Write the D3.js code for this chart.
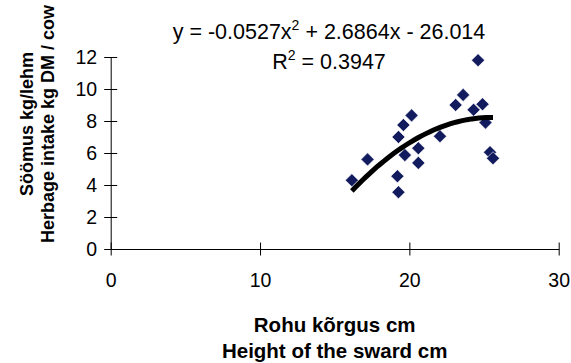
<!DOCTYPE html>
<html>
<head>
<meta charset="utf-8">
<script src="https://cdn.jsdelivr.net/npm/d3@7"></script>
<style>
  body { margin: 0; background: #fff; }
  svg text { font-family: "Liberation Sans", Arial, sans-serif; fill: #000; }
</style>
</head>
<body>
<div id="chart"></div>
<script>
// sward height (cm) vs herbage intake (kg DM / cow)
var swardHeight = [24.6, 23.6, 23.1, 24.9, 24.3, 25.1, 20.15, 19.6, 19.27, 22.05,
                   20.6, 19.7, 20.6, 17.2, 25.4, 25.6, 16.15, 19.2, 19.27];
var intake      = [11.8, 9.63, 9.0, 9.05, 8.7, 7.9, 8.35, 7.75, 7.0, 7.05,
                   6.3, 5.87, 5.38, 5.6, 6.05, 5.67, 4.3, 4.55, 3.55];
var xTicks = [0, 10, 20, 30];
var yTicks = [0, 2, 4, 6, 8, 10, 12];
// polynomial trend (order 2) as printed on the chart
var coef = [-0.0527, 2.6864, -26.014];

var width = 571, height = 363;

var svg = d3.select("#chart").append("svg")
    .attr("width", width)
    .attr("height", height);

var x = d3.scaleLinear().domain([0, 30]).range([110.7, 558.7]);
var y = d3.scaleLinear().domain([0, 12]).range([249, 57]);

// axes - ticks cross the axis line
var xAxis = svg.append("g")
    .attr("transform", "translate(0," + y(0) + ")")
    .call(d3.axisBottom(x).tickValues(xTicks).tickSize(6.5).tickSizeOuter(0).tickPadding(18));
xAxis.selectAll(".tick line").attr("y1", -6.5);

var yAxis = svg.append("g")
    .attr("transform", "translate(" + x(0) + ",0)")
    .call(d3.axisLeft(y).tickValues(yTicks).tickSize(6.5).tickSizeOuter(0).tickPadding(7));
yAxis.selectAll(".tick line").attr("x1", 6.5);

svg.selectAll(".domain, .tick line").attr("stroke", "#000").attr("stroke-width", 1);
svg.selectAll(".tick text").style("font-size", "19.5px");
svg.selectAll(".tick text").attr("fill", "#000");

// points
svg.append("g")
  .selectAll("path")
  .data(d3.range(swardHeight.length))
  .enter()
    .append("path")
    .attr("d", d3.symbol().type(d3.symbolDiamond2).size(110))
    .attr("transform", function(i) { return "translate(" + x(swardHeight[i]) + "," + y(intake[i]) + ")"; })
    .attr("fill", "#111b5e")
    .attr("stroke", "#fff")
    .attr("stroke-width", 0.6);

// trend line
var x0 = d3.min(swardHeight), x1 = d3.max(swardHeight);
var trend = d3.range(0, 41).map(function(k) {
    var v = x0 + (x1 - x0) * k / 40;
    return [v, coef[0] * v * v + coef[1] * v + coef[2]];
});
svg.append("path")
    .datum(trend)
    .attr("fill", "none")
    .attr("stroke", "#000")
    .attr("stroke-width", 5)
    .attr("d", d3.line().x(function(d) { return x(d[0]); }).y(function(d) { return y(d[1]); }));

// equation text
var eq = svg.append("text")
    .attr("x", 329).attr("y", 39)
    .attr("text-anchor", "middle")
    .style("font-size", "21.5px");
eq.append("tspan").text("y = -0.0527x");
eq.append("tspan").attr("dy", -9).style("font-size", "14px").text("2");
eq.append("tspan").attr("dy", 9).text(" + 2.6864x - 26.014");

var r2 = svg.append("text")
    .attr("x", 329).attr("y", 69)
    .attr("text-anchor", "middle")
    .style("font-size", "21.5px");
r2.append("tspan").text("R");
r2.append("tspan").attr("dy", -9).style("font-size", "14px").text("2");
r2.append("tspan").attr("dy", 9).text(" = 0.3947");

// axis titles
svg.append("text")
    .attr("x", 334.7).attr("y", 332)
    .attr("text-anchor", "middle")
    .style("font-size", "20.5px").style("font-weight", "bold")
    .text("Rohu kõrgus cm");
svg.append("text")
    .attr("x", 334.7).attr("y", 358)
    .attr("text-anchor", "middle")
    .style("font-size", "20.5px").style("font-weight", "bold")
    .text("Height of the sward cm");

svg.append("text")
    .attr("transform", "translate(33,124) rotate(-90)")
    .attr("text-anchor", "middle")
    .style("font-size", "18px").style("font-weight", "bold")
    .text("Söömus kg/lehm");
svg.append("text")
    .attr("transform", "translate(54,124) rotate(-90)")
    .attr("text-anchor", "middle")
    .style("font-size", "18px").style("font-weight", "bold")
    .text("Herbage intake kg DM / cow");
</script>
</body>
</html>
